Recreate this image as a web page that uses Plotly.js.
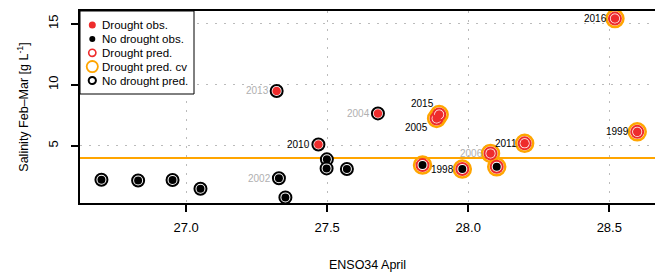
<!DOCTYPE html>
<html><head><meta charset="utf-8">
<script src="https://cdn.plot.ly/plotly-3.0.1.min.js"></script>
<style>html,body{margin:0;padding:0;background:#fff;overflow:hidden}</style>
</head><body><div id="chart" style="width:655px;height:274px"></div>
<script>
// ---- data ----
const enso = [26.700, 26.830, 26.952, 27.051, 27.329, 27.352, 27.321, 27.469, 27.499, 27.498, 27.570, 27.680, 27.838, 27.888, 27.897, 27.979, 28.079, 28.101, 28.200, 28.520, 28.599];
const salinity = [2.22, 2.16, 2.20, 1.49, 2.34, 0.78, 9.49, 5.11, 3.89, 3.15, 3.10, 7.65, 3.42, 7.24, 7.56, 3.10, 4.38, 3.28, 5.20, 15.41, 6.14];
const yearLabel = ["", "", "", "", "2002", "", "2013", "2010", "", "", "", "2004", "", "2005", "2015", "1998", "2006", "", "2011", "2016", "1999"];
const droughtObs = [0,0,0,0,0,0,1,1,0,0,0,1,0,1,1,0,1,0,1,1,1];
const droughtPred = [0,0,0,0,0,0,0,0,0,0,0,0,1,1,1,1,1,1,1,1,1];
const droughtPredCV = [0,0,0,0,0,0,0,0,0,0,0,0,1,1,1,1,1,1,1,1,1];
const droughtThreshold = 4;
const xTicks = [27.0, 27.5, 28.0, 28.5];
const yTicks = [5, 10, 15];
const legendLabels = ["Drought obs.", "No drought obs.", "Drought pred.", "Drought pred. cv", "No drought pred."];

// ---- styling ----
const RED = "#EE2C2C", ORANGE = "#FFA500", BLACK = "#000000", GRAY = "#b0b0b0";
const FONT = "Liberation Sans, Arial, Helvetica, sans-serif";
const W = 655, H = 274, M = {l: 80, t: 11, r: 0, b: 71};
const pw = W - M.l - M.r, ph = H - M.t - M.b;
const px2paper = px => (px - M.l) / pw;
const py2paper = py => (H - M.b - py) / ph;
const grayLabels = new Set(["2013", "2004", "2002", "2006"]);
const labelShift = {"2015": [-3, 11], "2005": [-7, -9]};

function pick(mask, val) {
  const xs = [], ys = [];
  enso.forEach((x, i) => { if (mask[i] === val) { xs.push(x); ys.push(salinity[i]); } });
  return {x: xs, y: ys};
}

const traces = [];
const cv = pick(droughtPredCV, 1);
traces.push({type: "scatter", mode: "markers", x: cv.x, y: cv.y, name: legendLabels[3], showlegend: false, hoverinfo: "skip",
  marker: {symbol: "circle-open", size: 17, color: ORANGE, line: {width: 2.5, color: ORANGE}}});
const pD = pick(droughtPred, 1);
traces.push({type: "scatter", mode: "markers", x: pD.x, y: pD.y, name: legendLabels[2], showlegend: false, hoverinfo: "skip",
  marker: {symbol: "circle", size: 12, color: "#ffffff", line: {width: 2, color: RED}}});
const pN = pick(droughtPred, 0);
traces.push({type: "scatter", mode: "markers", x: pN.x, y: pN.y, name: legendLabels[4], showlegend: false, hoverinfo: "skip",
  marker: {symbol: "circle", size: 12, color: "#ffffff", line: {width: 2, color: BLACK}}});
const oN = pick(droughtObs, 0);
traces.push({type: "scatter", mode: "markers", x: oN.x, y: oN.y, name: legendLabels[1], showlegend: false, hoverinfo: "skip",
  marker: {symbol: "circle", size: 8, color: BLACK, line: {width: 0}}});
const oD = pick(droughtObs, 1);
traces.push({type: "scatter", mode: "markers", x: oD.x, y: oD.y, name: legendLabels[0], showlegend: false, hoverinfo: "skip",
  marker: {symbol: "circle", size: 8.5, color: RED, line: {width: 0}}});

const annotations = [];
yearLabel.forEach((t, i) => {
  if (!t) return;
  const s = labelShift[t] || [-6, 0];
  annotations.push({x: enso[i], y: salinity[i], xref: "x", yref: "y", text: t, showarrow: false,
    xanchor: "right", yanchor: "middle", xshift: s[0], yshift: s[1],
    font: {family: FONT, size: 10, color: grayLabels.has(t) ? GRAY : BLACK}});
});

const shapes = [
  {type: "line", xref: "paper", x0: 0, x1: 1, yref: "y", y0: droughtThreshold, y1: droughtThreshold,
   line: {color: ORANGE, width: 2}, layer: "below"}
];

// legend (manual, R-style)
const legX = px2paper(92.3), legTextX = px2paper(99.5);
const rowY = [25, 39, 52.8, 66.6, 80.5];
shapes.push({type: "rect", xref: "paper", yref: "paper", x0: 0, x1: px2paper(194), y0: py2paper(94), y1: 1,
  fillcolor: "#ffffff", line: {color: BLACK, width: 1}, layer: "above"});
const legSym = [
  {r: 3.5, fill: RED, lc: RED, lw: 0},
  {r: 3, fill: BLACK, lc: BLACK, lw: 0},
  {r: 3.6, fill: "rgba(0,0,0,0)", lc: RED, lw: 1.6},
  {r: 5.6, fill: "rgba(0,0,0,0)", lc: ORANGE, lw: 1.8},
  {r: 3.6, fill: "rgba(0,0,0,0)", lc: BLACK, lw: 2}
];
legendLabels.forEach((lab, k) => {
  const s = legSym[k];
  shapes.push({type: "circle", xref: "paper", yref: "paper", xsizemode: "pixel", ysizemode: "pixel",
    xanchor: legX, yanchor: py2paper(rowY[k]), x0: -s.r, x1: s.r, y0: -s.r, y1: s.r,
    fillcolor: s.fill, line: {color: s.lc, width: s.lw}, layer: "above"});
  annotations.push({xref: "paper", yref: "paper", x: legTextX, y: py2paper(rowY[k]), text: lab, showarrow: false,
    xanchor: "left", yanchor: "middle", font: {family: FONT, size: 11.5, color: BLACK}});
});

const layout = {
  width: W, height: H, margin: M, paper_bgcolor: "#fff", plot_bgcolor: "#fff",
  font: {family: FONT, color: BLACK},
  showlegend: false,
  xaxis: {range: [26.624, 28.662], tickvals: xTicks, ticktext: xTicks.map(v => v.toFixed(1)),
    showgrid: true, gridcolor: "#bbbbbb", griddash: "2px,7px", gridwidth: 1, zeroline: false,
    showline: true, linecolor: BLACK, linewidth: 2, mirror: true,
    ticks: "outside", ticklen: 7, tickwidth: 2, tickcolor: BLACK, ticklabelstandoff: 4,
    tickfont: {size: 13, family: FONT},
    title: {text: "ENSO34 April", font: {size: 12.5, family: FONT}, standoff: 27}},
  yaxis: {range: [0.32, 16.03], tickvals: yTicks, tickangle: -90,
    showgrid: true, gridcolor: "#bbbbbb", griddash: "2px,7px", gridwidth: 1, zeroline: false,
    showline: true, linecolor: BLACK, linewidth: 2, mirror: false,
    ticks: "outside", ticklen: 7, tickwidth: 2, tickcolor: BLACK, ticklabelstandoff: 8,
    tickfont: {size: 13, family: FONT},
    title: {text: "Salinity Feb\u2013Mar [g L<sup>-1</sup>]", font: {size: 12.5, family: FONT}, standoff: 14}},
  shapes: shapes, annotations: annotations
};

Plotly.newPlot("chart", traces, layout, {staticPlot: true, displayModeBar: false});
</script>
</body></html>
